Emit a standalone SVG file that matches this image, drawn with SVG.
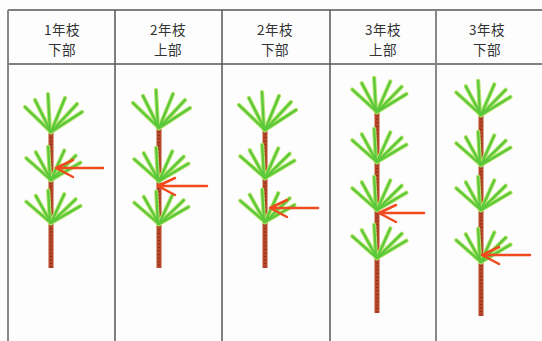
<svg xmlns="http://www.w3.org/2000/svg" xmlns:xlink="http://www.w3.org/1999/xlink" width="542" height="341" viewBox="0 0 542 341">
  <style>
    .grid { stroke: #555; stroke-width: 1.5; fill: none; }
    .edge { stroke: #888; stroke-width: 2; fill: none; }
    .head { font-family: "Noto Sans CJK JP", "Noto Sans", sans-serif; font-size: 13.5px; fill: #333; text-anchor: middle; letter-spacing: 0.5px; }
    .needles line { vector-effect: non-scaling-stroke; stroke-linecap: round; }
    .glow { stroke: #b4e46a; stroke-width: 4.2; }
    .core { stroke: #5ac83a; stroke-width: 2.2; }
    .trunk { stroke: #b8482a; stroke-width: 5; }
    .bark { stroke: #7e2c1a; stroke-width: 1.6; stroke-dasharray: 1 2.5; }
    .arrow { stroke: #f04a1e; stroke-width: 2.5; fill: none; stroke-linecap: round; stroke-linejoin: round; }
  </style>
  <defs>
    <!-- one whorl of needles, base at (0,0) -->
    <g id="needles" class="needles">
      <line x1="0" y1="0" x2="-26" y2="-25"/>
      <line x1="0" y1="0" x2="-16" y2="-32"/>
      <line x1="-1" y1="0" x2="-3" y2="-38"/>
      <line x1="0" y1="0" x2="14" y2="-34"/>
      <line x1="0" y1="0" x2="26" y2="-28"/>
      <line x1="0" y1="0" x2="31" y2="-20"/>
    </g>
    <g id="whorl">
      <use xlink:href="#needles" class="glow"/>
      <use xlink:href="#needles" class="core"/>
    </g>
  </defs>

  <rect width="542" height="341" fill="#fdfdfd"/>

  <!-- table frame -->
  <g id="table">
    <line class="grid" x1="8" y1="10" x2="542" y2="10"/>
    <line class="grid" x1="8" y1="64" x2="542" y2="64"/>
    <line class="edge" x1="8" y1="10" x2="8" y2="341"/>
    <line class="grid" x1="115" y1="10" x2="115" y2="341"/>
    <line class="grid" x1="222" y1="10" x2="222" y2="341"/>
    <line class="grid" x1="330" y1="10" x2="330" y2="341"/>
    <line class="edge" x1="436" y1="10" x2="436" y2="341"/>
  </g>

  <!-- column headings -->
  <g id="headings">
    <text class="head" x="62" y="35">1年枝</text>
    <text class="head" x="62" y="55">下部</text>
    <text class="head" x="168" y="35">2年枝</text>
    <text class="head" x="168" y="55">上部</text>
    <text class="head" x="275" y="35">2年枝</text>
    <text class="head" x="275" y="55">下部</text>
    <text class="head" x="383" y="35">3年枝</text>
    <text class="head" x="383" y="55">上部</text>
    <text class="head" x="487" y="35">3年枝</text>
    <text class="head" x="487" y="55">下部</text>
  </g>

  <!-- 1-year shoot, lower part -->
  <g id="tree1">
    <line class="trunk" x1="51" y1="128" x2="51" y2="268"/>
    <line class="bark" x1="51" y1="130" x2="51" y2="268"/>
    <use xlink:href="#whorl" transform="translate(51,132)"/>
    <use xlink:href="#whorl" transform="translate(51,180) scale(0.95,0.87)"/>
    <use xlink:href="#whorl" transform="translate(51,223) scale(0.95,0.85)"/>
  </g>

  <!-- 2-year shoot, upper part -->
  <g id="tree2">
    <line class="trunk" x1="159" y1="126" x2="159" y2="268"/>
    <line class="bark" x1="159" y1="128" x2="159" y2="268"/>
    <use xlink:href="#whorl" transform="translate(159,128)"/>
    <use xlink:href="#whorl" transform="translate(159,181) scale(0.95,0.87)"/>
    <use xlink:href="#whorl" transform="translate(159,224) scale(0.95,0.85)"/>
  </g>

  <!-- 2-year shoot, lower part -->
  <g id="tree3">
    <line class="trunk" x1="265" y1="128" x2="265" y2="268"/>
    <line class="bark" x1="265" y1="130" x2="265" y2="268"/>
    <use xlink:href="#whorl" transform="translate(265,130)"/>
    <use xlink:href="#whorl" transform="translate(265,178) scale(0.95,0.87)"/>
    <use xlink:href="#whorl" transform="translate(265,222) scale(0.95,0.85)"/>
  </g>

  <!-- 3-year shoot, upper part -->
  <g id="tree4">
    <line class="trunk" x1="377" y1="110" x2="377" y2="313"/>
    <line class="bark" x1="377" y1="112" x2="377" y2="313"/>
    <use xlink:href="#whorl" transform="translate(377,112) scale(0.95,0.9)"/>
    <use xlink:href="#whorl" transform="translate(377,162) scale(0.95,0.87)"/>
    <use xlink:href="#whorl" transform="translate(377,210) scale(0.95,0.87)"/>
    <use xlink:href="#whorl" transform="translate(377,258) scale(0.95,0.87)"/>
  </g>

  <!-- 3-year shoot, lower part -->
  <g id="tree5">
    <line class="trunk" x1="481" y1="113" x2="481" y2="316"/>
    <line class="bark" x1="481" y1="115" x2="481" y2="316"/>
    <use xlink:href="#whorl" transform="translate(481,115) scale(0.95,0.9)"/>
    <use xlink:href="#whorl" transform="translate(481,165) scale(0.95,0.87)"/>
    <use xlink:href="#whorl" transform="translate(481,210) scale(0.95,0.87)"/>
    <use xlink:href="#whorl" transform="translate(481,262) scale(0.95,0.87)"/>
  </g>

  <!-- pointers -->
  <g id="connectors">
    <path class="arrow" d="M103,168 H56 M73,160 L56,168 L73,177"/>
    <path class="arrow" d="M207,186 H158 M175,178 L158,186 L175,195"/>
    <path class="arrow" d="M318,208 H270 M287,200 L270,208 L287,217"/>
    <path class="arrow" d="M424,213 H379 M396,205 L379,213 L396,222"/>
    <path class="arrow" d="M530,255 H482 M499,247 L482,255 L499,264"/>
  </g>
</svg>
